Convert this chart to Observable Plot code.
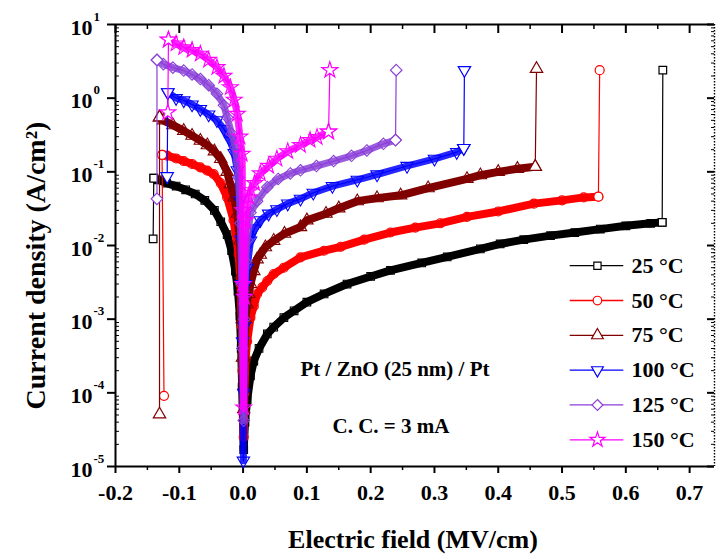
<!DOCTYPE html>
<html><head><meta charset="utf-8">
<script src="https://cdn.jsdelivr.net/npm/d3@7"></script>
<script src="https://cdn.jsdelivr.net/npm/@observablehq/plot@0.6"></script>
<style>body{margin:0;background:#fff}</style>
</head><body><div id="chart"></div>
<script>
// ---------- data ----------
const temps = ["25 °C","50 °C","75 °C","100 °C","125 °C","150 °C"];
const colors = ["#000000","#ff0000","#800000","#0000ff","#8a3fd8","#ff00ff"];

const neg25X = [-0.140,-0.133,-0.120,-0.105,-0.090,-0.075,-0.060,-0.045,-0.035,-0.025,-0.018,-0.012,-0.008,-0.005,-0.003,-0.0015];
const neg25J = [0.082,0.078,0.070,0.064,0.057,0.050,0.041,0.030,0.021,0.014,0.0085,0.0045,0.0024,0.0011,4e-4,1.2e-4];
const pos25X = [0.001,0.003,0.0064,0.0116,0.0168,0.025,0.038,0.048,0.064,0.080,0.100,0.127,0.163,0.200,0.231,0.280,0.320,0.372,0.403,0.440,0.482,0.520,0.560,0.600,0.639,0.657];
const pos25J = [1.7e-5,4e-5,8e-5,1.7e-4,2.7e-4,4e-4,6.3e-4,7.8e-4,1.05e-3,1.3e-3,1.7e-3,2.2e-3,3.0e-3,3.8e-3,4.6e-3,5.8e-3,7.0e-3,9.0e-3,1.05e-2,1.2e-2,1.36e-2,1.5e-2,1.67e-2,1.85e-2,2.0e-2,2.06e-2];
const reset25 = [-0.141, 0.0123], cc25 = [0.658, 2.4];

const neg50X = [-0.127,-0.119,-0.105,-0.093,-0.080,-0.067,-0.056,-0.046,-0.035,-0.025,-0.015,-0.007,-0.004,-0.002,-0.001];
const neg50J = [0.170,0.166,0.152,0.140,0.128,0.115,0.104,0.093,0.070,0.045,0.022,0.0076,0.003,8e-4,2e-4];
const pos50X = [0.001,0.002,0.004,0.0064,0.0116,0.0168,0.022,0.030,0.038,0.048,0.064,0.090,0.127,0.153,0.190,0.231,0.270,0.309,0.351,0.400,0.456,0.500,0.534,0.557];
const pos50J = [2.5e-5,1e-4,3e-4,5e-4,1.05e-3,1.5e-3,2.2e-3,2.7e-3,3.3e-3,4.1e-3,5.0e-3,6.9e-3,8.5e-3,9.6e-3,1.2e-2,1.5e-2,1.75e-2,2.0e-2,2.45e-2,2.9e-2,3.7e-2,4.1e-2,4.5e-2,4.6e-2];
const reset50 = [-0.124, 9.1e-5], cc50 = [0.559, 2.4];

const neg75X = [-0.131,-0.125,-0.110,-0.093,-0.080,-0.067,-0.056,-0.045,-0.035,-0.025,-0.020,-0.014,-0.009,-0.005,-0.003,-0.0015,-0.001];
const neg75J = [0.55,0.50,0.43,0.36,0.31,0.265,0.23,0.19,0.15,0.10,0.068,0.045,0.027,0.0117,0.004,1e-3,3e-4];
const pos75X = [0.001,0.002,0.004,0.006,0.009,0.0116,0.0168,0.022,0.027,0.035,0.048,0.065,0.090,0.100,0.130,0.150,0.179,0.210,0.247,0.290,0.351,0.372,0.400,0.430,0.458];
const pos75J = [6e-5,3e-4,1e-3,1.6e-3,2.2e-3,3e-3,4.5e-3,6.5e-3,7.5e-3,9.5e-3,0.0116,0.0145,0.0178,0.022,0.027,0.032,0.040,0.044,0.048,0.060,0.080,0.090,0.100,0.110,0.117];
const reset75 = [-0.131, 5.1e-5], cc75 = [0.460, 2.5];

const neg100X = [-0.118,-0.105,-0.093,-0.080,-0.067,-0.054,-0.041,-0.030,-0.020,-0.014,-0.009,-0.005,-0.003,-0.0015,-0.0008];
const neg100J = [1.20,1.00,0.93,0.82,0.71,0.60,0.50,0.38,0.265,0.18,0.105,0.041,0.012,3e-3,5e-4];
const pos100X = [0.0005,0.001,0.002,0.004,0.0064,0.0116,0.018,0.027,0.040,0.053,0.070,0.090,0.110,0.140,0.179,0.210,0.257,0.300,0.335,0.346];
const pos100J = [1.2e-5,1e-4,8e-4,3e-3,5e-3,0.0116,0.017,0.022,0.027,0.031,0.037,0.043,0.052,0.064,0.078,0.092,0.120,0.150,0.185,0.210];
const reset100 = [-0.119, 0.087], cc100 = [0.347, 2.4];

const neg125X = [-0.135,-0.125,-0.110,-0.093,-0.080,-0.067,-0.054,-0.041,-0.030,-0.025,-0.018,-0.012,-0.007,-0.004,-0.002,-0.001];
const neg125J = [3.3,2.9,2.6,2.37,2.1,1.82,1.5,1.15,0.8,0.55,0.33,0.215,0.084,0.02,3e-3,4e-4];
const pos125X = [0.001,0.002,0.004,0.0064,0.0116,0.022,0.038,0.055,0.074,0.090,0.115,0.142,0.170,0.194,0.220,0.239];
const pos125J = [4.2e-5,1e-3,6e-3,0.0118,0.028,0.040,0.062,0.080,0.095,0.105,0.120,0.140,0.165,0.195,0.240,0.270];
const reset125 = [-0.135, 0.043], cc125 = [0.240, 2.4];

const neg150X = [-0.117,-0.105,-0.093,-0.080,-0.067,-0.054,-0.041,-0.030,-0.020,-0.014,-0.009,-0.005,-0.0014,-0.0008,-0.0004];
const neg150J = [6.2,5.5,4.9,4.5,4.0,3.3,2.63,2.0,1.4,0.95,0.61,0.30,0.175,0.03,3e-3];
const pos150X = [0.001,0.002,0.0038,0.009,0.0116,0.018,0.027,0.040,0.053,0.070,0.090,0.105,0.116,0.134];
const pos150J = [6.3e-5,2e-3,0.022,0.045,0.056,0.070,0.095,0.120,0.150,0.190,0.230,0.270,0.295,0.350];
const reset150 = [-0.118, 0.64], cc150 = [0.136, 2.4];

const xMajor = [-0.2,-0.1,0.0,0.1,0.2,0.3,0.4,0.5,0.6,0.7];
const xMinor = [-0.15,-0.05,0.05,0.15,0.25,0.35,0.45,0.55,0.65];
const yDecades = [1e-5,1e-4,1e-3,1e-2,1e-1,1,10];
const yExponents = ["-5","-4","-3","-2","-1","0","1"];

// ---------- build ----------
const negX = [neg25X,neg50X,neg75X,neg100X,neg125X,neg150X];
const negJ = [neg25J,neg50J,neg75J,neg100J,neg125J,neg150J];
const posX = [pos25X,pos50X,pos75X,pos100X,pos125X,pos150X];
const posJ = [pos25J,pos50J,pos75J,pos100J,pos125J,pos150J];
const resets = [reset25,reset50,reset75,reset100,reset125,reset150];
const ccs = [cc25,cc50,cc75,cc100,cc125,cc150];

function symTriDown(){
  return {draw(ctx, size){
    const y = -Math.sqrt(size / (Math.sqrt(3) * 3));
    ctx.moveTo(0, -y * 2);
    ctx.lineTo(-Math.sqrt(3) * y, y);
    ctx.lineTo(Math.sqrt(3) * y, y);
    ctx.closePath();
  }};
}
function symDiamond(){
  return {draw(ctx, size){
    const r = Math.sqrt(size) / Math.SQRT2;
    ctx.moveTo(0, -r); ctx.lineTo(r, 0); ctx.lineTo(0, r); ctx.lineTo(-r, 0); ctx.closePath();
  }};
}
const symbols = ["square","circle","triangle",symTriDown(),symDiamond(),"star"];
const radii = [4.3,4.5,4.6,4.6,4.6,5.0];

const F = "Liberation Serif, Times New Roman, serif";
const marks = [];

// frame
marks.push(Plot.ruleX([-0.2], {strokeWidth: 2}));
marks.push(Plot.ruleY([1e-5], {strokeWidth: 2}));
marks.push(Plot.ruleY([10], {strokeWidth: 2}));
marks.push(Plot.ruleX([0.739], {strokeWidth: 1.4, strokeDasharray: "1.5,1.5"}));

// ticks
marks.push(Plot.axisX({ticks: xMajor, tickSize: 7, tickPadding: 11, tickFormat: d => d.toFixed(1), label: null, strokeWidth: 2, fontSize: 22, fontWeight: "bold", fontFamily: F}));
marks.push(Plot.axisX({ticks: xMinor, tickSize: 4, tickFormat: () => "", label: null, strokeWidth: 1.5}));
marks.push(Plot.tickX(xMajor, {x: d => d, insetBottom: 433, strokeWidth: 2}));
marks.push(Plot.tickX(xMinor, {x: d => d, insetBottom: 437, strokeWidth: 1.5}));
marks.push(Plot.axisY({ticks: yDecades, tickSize: 8, tickFormat: () => "", label: null, strokeWidth: 2}));
const yMinor = [];
for (const d of yDecades.slice(0, 6)) for (let m = 2; m <= 9; m++) yMinor.push(m * d);
marks.push(Plot.tickY(yMinor, {y: d => d, insetRight: 595, strokeWidth: 1}));
marks.push(Plot.tickY(yDecades, {y: d => d, insetLeft: 592, strokeWidth: 2}));
marks.push(Plot.tickY(yMinor, {y: d => d, insetLeft: 596, strokeWidth: 1}));

// y tick labels 10^n
marks.push(Plot.text(yDecades, {y: d => d, frameAnchor: "left", text: () => "10", textAnchor: "end", lineAnchor: "middle", dx: -23, dy: 3, fontSize: 22, fontWeight: "bold", fontFamily: F}));
marks.push(Plot.text(yDecades, {y: d => d, frameAnchor: "left", text: (d, i) => yExponents[i], textAnchor: "start", lineAnchor: "middle", dx: -22, dy: -8, fontSize: 13, fontWeight: "bold", fontFamily: F}));

// axis titles
marks.push(Plot.text(["Current density (A/cm²)"], {frameAnchor: "left", text: d => d, rotate: -90, textAnchor: "middle", lineAnchor: "middle", dx: -79, dy: 20, fontSize: 28, fontWeight: "bold", fontFamily: F, letterSpacing: "0.8px"}));
marks.push(Plot.text(["Electric field (MV/cm)"], {frameAnchor: "bottom", text: d => d, textAnchor: "middle", lineAnchor: "middle", dy: 73.5, dx: -2, fontSize: 26, fontWeight: "bold", fontFamily: F, letterSpacing: "0.5px"}));

// annotations
marks.push(Plot.text(["Pt / ZnO (25 nm) / Pt"], {frameAnchor: "top-left", text: d => d, textAnchor: "start", lineAnchor: "middle", dx: 185, dy: 345, fontSize: 21, fontWeight: "bold", fontFamily: F, letterSpacing: "1.5px"}));
marks.push(Plot.text(["C. C. = 3 mA"], {frameAnchor: "top-left", text: d => d, textAnchor: "start", lineAnchor: "middle", dx: 217, dy: 402, fontSize: 21, fontWeight: "bold", fontFamily: F, letterSpacing: "1px"}));

// series
temps.forEach((t, i) => {
  const neg = negX[i].map((x, k) => ({x, y: negJ[i][k]}));
  const pos = posX[i].map((x, k) => ({x, y: posJ[i][k]}));
  const band = neg.concat(pos);
  const rs = {x: resets[i][0], y: resets[i][1]};
  const cc = {x: ccs[i][0], y: ccs[i][1]};
  const full = [rs, ...band, cc];
  const c = colors[i];
  marks.push(Plot.line(full, {x: "x", y: "y", stroke: c, strokeWidth: 1.2}));
  marks.push(Plot.line(band, {x: "x", y: "y", stroke: c, strokeWidth: i >= 3 ? 7 : 8, strokeLinecap: "round", strokeLinejoin: "round", strokeOpacity: i >= 3 ? 0.85 : 1}));
  marks.push(Plot.dot(band, {x: "x", y: "y", symbol: symbols[i], r: radii[i], stroke: c, fill: "none", strokeWidth: 1.1}));
  marks.push(Plot.dot([rs, neg[0], pos[pos.length - 1], cc], {x: "x", y: "y", symbol: symbols[i], r: radii[i], stroke: c, fill: "white", strokeWidth: 1.2}));
});

// legend (inside plot, placed in data space)
const legRows = temps.map((t, i) => ({t, i, y: Math.pow(10, -2.274 - 0.4727 * i)}));
legRows.forEach(r => {
  marks.push(Plot.link([r], {x1: 0.512, x2: 0.596, y1: "y", y2: "y", stroke: colors[r.i], strokeWidth: 1.3}));
  marks.push(Plot.dot([r], {x: 0.5555, y: "y", symbol: symbols[r.i], r: radii[r.i] * 0.95, stroke: colors[r.i], fill: "white", strokeWidth: 1.2}));
});
marks.push(Plot.text(legRows, {x: 0.609, y: "y", text: "t", textAnchor: "start", lineAnchor: "middle", fontSize: 22, fontWeight: "bold", fontFamily: F}));

const chart = Plot.plot({
  width: 717, height: 555,
  marginLeft: 115, marginRight: 3, marginTop: 24, marginBottom: 89,
  x: {domain: [-0.2, 0.739]},
  y: {type: "log", domain: [1e-5, 10]},
  style: {fontFamily: F, fontSize: "22px", background: "white", color: "black", overflow: "visible"},
  marks
});
document.getElementById("chart").appendChild(chart);
</script>
</body></html>
